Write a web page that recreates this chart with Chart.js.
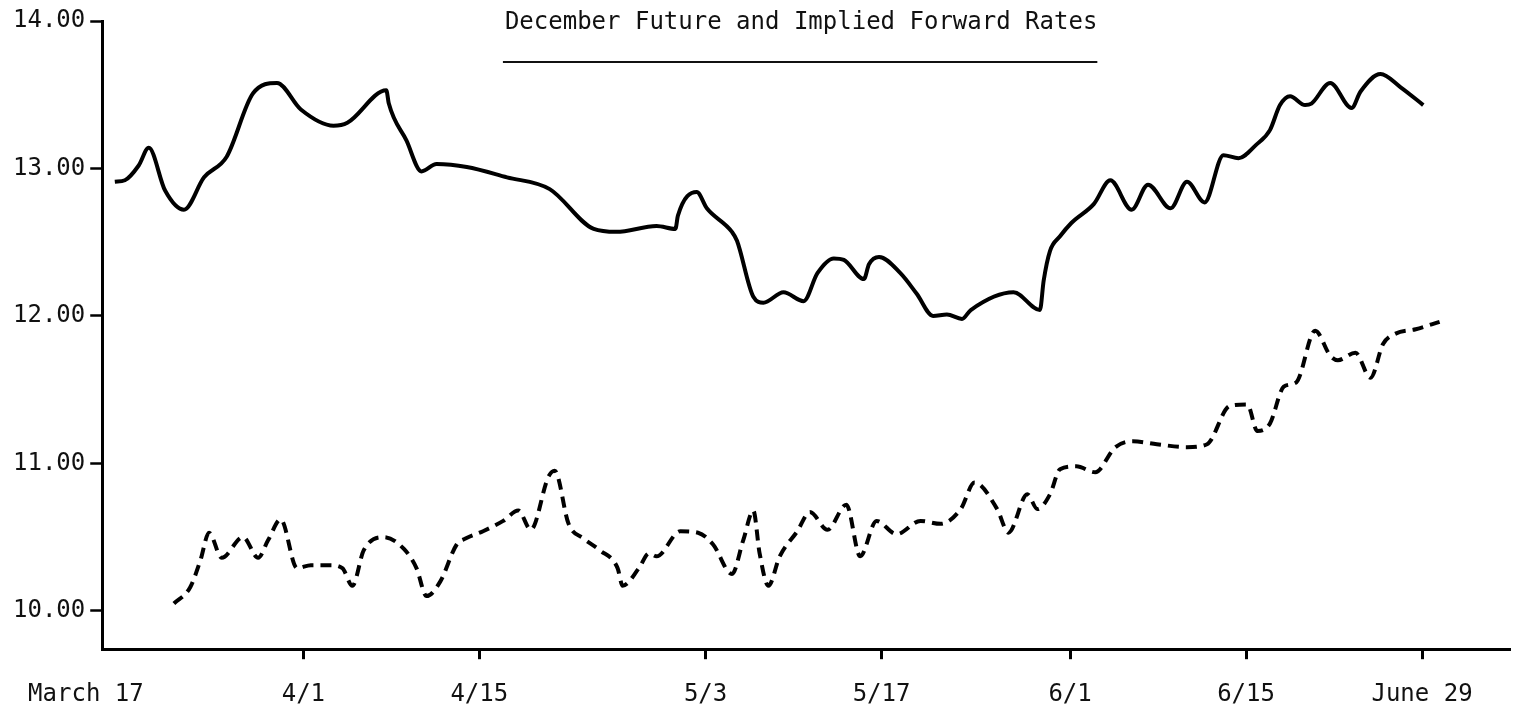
<!DOCTYPE html>
<html>
<head>
<meta charset="utf-8">
<script src="https://cdn.jsdelivr.net/npm/chart.js@4"></script>
<style>
  html, body { margin: 0; padding: 0; background: #fff; }
  #wrap { width: 1520px; height: 713px; }
</style>
</head>
<body>
<div id="wrap"><canvas id="rates"></canvas></div>
<script>
// days counted from March 17
const futureDays = [0, 0.8, 1.9, 2.7, 4.0, 5.5, 7.1, 8.9, 11.0, 12.9, 14.8, 17.4, 18.5, 21.6, 21.8, 23.2, 24.4, 25.6, 28.0, 31.2,
  34.6, 38.1, 39.9, 43.1, 44.6, 44.8, 46.3, 47.1, 49.1, 49.5, 50.8, 51.6, 53.2, 54.8, 55.9, 57.2, 58.0, 59.6, 60.0, 60.8,
  62.5, 63.8, 65.1, 66.2, 67.4, 68.1, 71.5, 73.6, 73.9, 74.4, 75.2, 76.1, 77.9, 79.2, 80.9, 82.2, 84.0, 85.3, 86.7, 88.2,
  89.4, 90.8, 91.9, 92.7, 93.5, 94.7, 95.2, 96.7, 98.4, 99.1, 100.7, 102.3, 104.1];
const futureRates = [12.91, 12.92, 13.02, 13.14, 12.85, 12.72, 12.94, 13.08, 13.51, 13.58, 13.40, 13.29, 13.31, 13.53, 13.44, 13.19, 12.98, 13.03, 13.01, 12.94,
  12.86, 12.59, 12.57, 12.61, 12.59, 12.68, 12.84, 12.73, 12.57, 12.51, 12.13, 12.09, 12.16, 12.10, 12.29, 12.39, 12.38, 12.25, 12.35, 12.40,
  12.29, 12.15, 12.00, 12.01, 11.98, 12.04, 12.16, 12.04, 12.24, 12.44, 12.54, 12.63, 12.76, 12.92, 12.72, 12.89, 12.73, 12.91, 12.77, 13.09,
  13.07, 13.16, 13.26, 13.43, 13.49, 13.43, 13.44, 13.58, 13.41, 13.52, 13.64, 13.55, 13.43];

const forwardDays = [4.7, 6.0, 6.8, 7.5, 8.5, 10.2, 11.4, 12.2, 13.2, 14.5, 15.6, 17.1, 18.1, 18.9, 19.8, 21.4, 23.0, 24.0, 24.8, 25.9,
  27.2, 27.9, 29.3, 30.9, 32.1, 33.1, 34.5, 35.0, 36.1, 37.3, 38.6, 40.0, 40.4, 41.7, 42.5, 43.1, 45.0, 46.4, 47.6, 49.1,
  50.0, 50.8, 51.3, 52.0, 52.9, 54.3, 55.3, 56.7, 58.2, 59.3, 60.6, 62.2, 64.1, 65.7, 67.3, 68.4, 70.2, 71.1, 72.6, 73.4,
  74.4, 75.2, 76.5, 78.0, 79.6, 81.0, 82.9, 85.3, 86.9, 88.7, 90.1, 90.9, 91.9, 93.0, 94.0, 95.5, 96.7, 97.3, 98.7, 99.9,
  100.9, 101.9, 103.5, 105.4];
const forwardRates = [10.05, 10.16, 10.34, 10.53, 10.36, 10.50, 10.36, 10.48, 10.62, 10.29, 10.31, 10.31, 10.29, 10.17, 10.41, 10.50, 10.42, 10.29, 10.10, 10.20,
  10.45, 10.49, 10.54, 10.61, 10.68, 10.55, 10.91, 10.95, 10.59, 10.49, 10.41, 10.29, 10.17, 10.29, 10.39, 10.37, 10.54, 10.53, 10.45, 10.25,
  10.48, 10.68, 10.39, 10.17, 10.37, 10.54, 10.67, 10.55, 10.72, 10.37, 10.61, 10.52, 10.61, 10.59, 10.69, 10.87, 10.69, 10.53, 10.79, 10.69,
  10.79, 10.96, 10.98, 10.94, 11.11, 11.15, 11.13, 11.11, 11.13, 11.39, 11.40, 11.22, 11.27, 11.52, 11.55, 11.90, 11.73, 11.70, 11.75, 11.58,
  11.81, 11.88, 11.91, 11.96];

const dateTicks = [0, 15, 29, 47, 61, 76, 90, 104];
const dateLabels = ['March 17    ', '4/1', '4/15', '5/3', '5/17', '6/1', '6/15', 'June 29'];
const rateTicks = [10, 11, 12, 13, 14];
const titleText = 'December Future and Implied Forward Rates';

const typeFont = { family: '"DejaVu Sans Mono", "Liberation Mono", monospace', size: 24 };

const toPoints = (xs, ys) => xs.map((x, i) => ({ x: x, y: ys[i] }));

// title sits inside the plot, underlined
const sheetTitle = {
  id: 'sheetTitle',
  afterDraw(chart) {
    const { ctx, chartArea } = chart;
    const cx = (chartArea.left + chartArea.right) / 2 - 5;
    ctx.save();
    ctx.font = '24px ' + typeFont.family;
    ctx.fillStyle = '#111';
    ctx.textAlign = 'center';
    ctx.textBaseline = 'middle';
    ctx.fillText(titleText, cx, chartArea.top + 2);
    const w = ctx.measureText(titleText).width;
    ctx.strokeStyle = '#111';
    ctx.lineWidth = 2;
    ctx.beginPath();
    ctx.moveTo(cx - w / 2 - 2, chartArea.top + 41);
    ctx.lineTo(cx + w / 2, chartArea.top + 41);
    ctx.stroke();
    ctx.restore();
  }
};

const cfg = {
  type: 'line',
  data: {
    datasets: [{
      label: 'December Future',
      data: toPoints(futureDays, futureRates),
      borderColor: '#000',
      borderWidth: 4,
      pointRadius: 0,
      cubicInterpolationMode: 'monotone'
    }, {
      label: 'Implied Forward',
      data: toPoints(forwardDays, forwardRates),
      borderColor: '#000',
      borderWidth: 4,
      borderDash: [11, 7],
      pointRadius: 0,
      cubicInterpolationMode: 'monotone'
    }]
  },
  options: {
    responsive: true,
    maintainAspectRatio: false,
    animation: false,
    layout: { padding: { left: 8, top: 21, right: 10, bottom: -17 } },
    plugins: {
      legend: { display: false },
      tooltip: { enabled: false }
    },
    scales: {
      x: {
        type: 'linear',
        min: -1,
        max: 111,
        afterBuildTicks: (scale) => { scale.ticks = dateTicks.map(v => ({ value: v })); },
        ticks: {
          font: typeFont,
          color: '#111',
          padding: 21,
          maxRotation: 0,
          autoSkip: false,
          callback: (v, i) => dateLabels[i]
        },
        grid: {
          drawOnChartArea: false,
          tickLength: 10,
          tickWidth: 3,
          tickColor: (c) => c.index === 0 ? 'rgba(0,0,0,0)' : '#000'
        },
        border: { color: '#000', width: 3 }
      },
      y: {
        min: 9.74,
        max: 14,
        afterBuildTicks: (scale) => { scale.ticks = rateTicks.map(v => ({ value: v })); },
        ticks: {
          font: typeFont,
          color: '#111',
          padding: 5,
          callback: (v) => v.toFixed(2)
        },
        grid: {
          drawOnChartArea: false,
          tickLength: 12,
          tickWidth: 2.5,
          tickColor: '#000'
        },
        border: { color: '#000', width: 3 }
      }
    }
  },
  plugins: [sheetTitle]
};

const rateChart = new Chart(document.getElementById('rates'), cfg);
</script>
</body>
</html>
